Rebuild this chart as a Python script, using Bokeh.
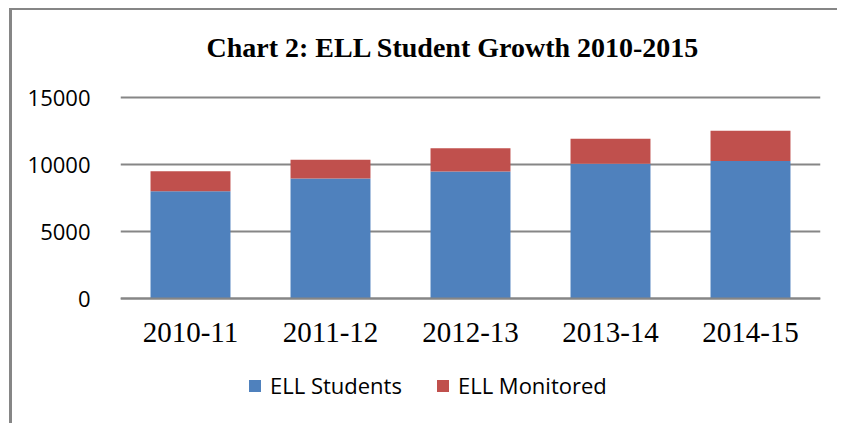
from bokeh.plotting import figure
from bokeh.models import ColumnDataSource, Legend, LegendItem, Title, FactorRange, Range1d, FixedTicker
from bokeh.embed import file_html
from bokeh.resources import INLINE

years = ["2010-11", "2011-12", "2012-13", "2013-14", "2014-15"]
ell_students = [8000, 8950, 9480, 10050, 10270]
ell_monitored = [1500, 1400, 1740, 1870, 2240]
series = ["ELL Students", "ELL Monitored"]
colors = ["#4F81BD", "#C0504D"]
y_ticks = [0, 5000, 10000, 15000]

source = ColumnDataSource(data={"year": years, "ELL Students": ell_students, "ELL Monitored": ell_monitored})

# frame extends below zero to leave room for the category labels and legend
p = figure(width=828, height=415, x_range=FactorRange(*years, range_padding=0),
           y_range=Range1d(-8731, 16269), output_backend="svg", toolbar_location=None,
           min_border_left=108, min_border_right=20, min_border_top=70, min_border_bottom=10)
p.title = None
p.styles = {"margin-left": "9px", "margin-top": "8px",
            "border-left": "3px solid #868686", "border-top": "2px solid #868686"}

r = p.vbar_stack(series, x="year", width=0.571, color=colors, line_color=None, source=source)

p.add_layout(Title(text="Chart 2: ELL Student Growth 2010-2015", text_font="Liberation Serif",
                   text_font_size="28px", text_font_style="bold", text_color="#000000",
                   align="left", offset=86, standoff=36), "above")

p.outline_line_color = None
p.xgrid.grid_line_color = None
p.ygrid.grid_line_color = "#868686"
p.ygrid.grid_line_width = 2
p.yaxis.ticker = FixedTicker(ticks=y_ticks)
p.yaxis.axis_line_color = None
p.yaxis.major_tick_line_color = None
p.yaxis.minor_tick_line_color = None
p.yaxis.major_label_standoff = 24
p.yaxis.major_label_text_font = "Open Sans"
p.yaxis.major_label_text_font_size = "22px"
p.yaxis.major_label_text_color = "#000000"

p.xaxis.fixed_location = 0
p.xaxis.axis_line_color = "#868686"
p.xaxis.axis_line_width = 2
p.xaxis.major_tick_line_color = None
p.xaxis.minor_tick_line_color = None
p.xaxis.major_label_standoff = 18
p.xaxis.major_label_text_font = "Liberation Serif"
p.xaxis.major_label_text_font_size = "29px"
p.xaxis.major_label_text_color = "#000000"

legend = Legend(items=[LegendItem(label=s, renderers=[rr]) for s, rr in zip(series, r)],
                orientation="horizontal", location=(127, 15),
                glyph_width=15, glyph_height=15, label_standoff=8, spacing=33,
                padding=0, margin=0, border_line_color=None, background_fill_alpha=0,
                label_text_font="Open Sans", label_text_font_size="22px", label_text_color="#000000")
p.add_layout(legend)

open("out.html", "w").write(file_html(p, INLINE))
